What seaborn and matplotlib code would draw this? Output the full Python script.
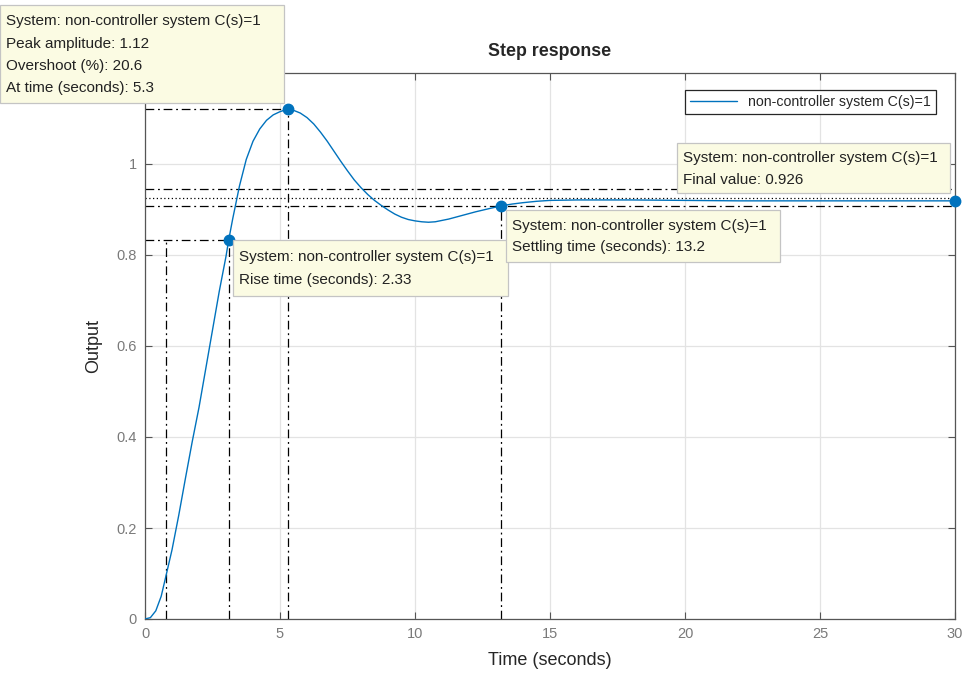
import matplotlib
matplotlib.use("Agg")
import matplotlib.pyplot as plt
from matplotlib.patches import Rectangle
import seaborn as sns
import pandas as pd

# step response
time_s = [0.0, 0.2, 0.4, 0.6, 0.77, 1.0, 1.25, 1.5, 1.75, 2.0, 2.25, 2.5, 2.75, 3.0,
          3.1, 3.25, 3.5, 3.75, 4.0, 4.25, 4.5, 4.75, 5.0, 5.15, 5.3, 5.5, 5.75, 6.0,
          6.25, 6.5, 6.75, 7.0, 7.25, 7.5, 7.75, 8.0, 8.25, 8.5, 8.75, 9.0, 9.25,
          9.5, 9.75, 10.0, 10.25, 10.5, 10.75, 11.25, 11.75, 12.25, 12.75, 13.2,
          13.6, 14.0, 14.5, 15.0, 16.0, 18.0, 20.0, 22.0, 25.0, 30.0]
output = [0.0, 0.003, 0.018, 0.05, 0.093, 0.152, 0.228, 0.31, 0.39, 0.465, 0.55,
          0.635, 0.72, 0.797, 0.833, 0.88, 0.952, 1.01, 1.05, 1.077, 1.096, 1.108,
          1.115, 1.118, 1.12, 1.118, 1.112, 1.102, 1.088, 1.07, 1.05, 1.028, 1.006,
          0.985, 0.965, 0.948, 0.933, 0.92, 0.909, 0.899, 0.89, 0.883, 0.878, 0.875,
          0.873, 0.872, 0.873, 0.879, 0.887, 0.895, 0.902, 0.908, 0.912, 0.915,
          0.918, 0.92, 0.921, 0.921, 0.92, 0.919, 0.919, 0.919]

t10, t90, y90 = 0.77, 3.1, 0.833
peak_t, peak_y = 5.3, 1.12
settle_t, settle_y = 13.2, 0.908
final_t, final_y = 30.0, 0.919
final_value = 0.926
band_hi, band_lo = 0.945, 0.907

label = "non-controller system C(s)=1"
blue = "#0072BD"

sns.set_style("white")
plt.rcParams["font.family"] = ["Liberation Sans", "DejaVu Sans"]

W, H = 963, 675
fig = plt.figure(figsize=(W / 100, H / 100), dpi=100)
ax = fig.add_axes([145 / W, 1 - 619 / H, 810 / W, 546 / H])

df = pd.DataFrame({"Time (seconds)": time_s, "Output": output})
sns.lineplot(data=df, x="Time (seconds)", y="Output", ax=ax, color=blue,
             linewidth=1.0, label=label, zorder=3)

ax.set_xlim(0, 30)
ax.set_ylim(0, 1.2)
ax.set_xticks(range(0, 31, 5))
ax.set_yticks([0, 0.2, 0.4, 0.6, 0.8, 1.0])
ax.set_yticklabels(["0", "0.2", "0.4", "0.6", "0.8", "1"])
ax.grid(True, color="#e3e3e3", linewidth=0.9)
ax.set_axisbelow(True)
ax.tick_params(direction="in", length=5, width=0.8, colors="#555555",
               labelcolor="#7a7a7a", labelsize=10.5, top=True, right=True,
               bottom=True, left=True, pad=6)
for sp in ax.spines.values():
    sp.set_color("#555555")
    sp.set_linewidth(0.9)

ax.set_xlabel("Time (seconds)", fontsize=13, color="#262626", labelpad=8)
ax.set_ylabel("Output", fontsize=13, color="#262626", labelpad=10)
ax.set_title("Step response", fontsize=12.8, fontweight="bold", pad=12)

dash = (0, (7, 3, 1.5, 3))
dd = dict(color="black", linestyle=dash, linewidth=0.9, zorder=2)
# rise time
ax.plot([0, t90], [y90, y90], **dd)
ax.plot([t10, t10], [0, y90], **dd)
ax.plot([t90, t90], [0, y90], **dd)
# peak
ax.plot([0, peak_t], [peak_y, peak_y], **dd)
ax.plot([peak_t, peak_t], [0, peak_y], **dd)
# settling
ax.plot([settle_t, settle_t], [0, settle_y], **dd)
ax.axhline(band_hi, **dd)
ax.axhline(band_lo, **dd)
ax.axhline(final_value, color="black", linestyle=(0, (1, 2)), linewidth=0.9, zorder=2)

ax.plot([t90, peak_t, settle_t, final_t], [y90, peak_y, settle_y, final_y], "o",
        color=blue, markersize=7.5, zorder=4, clip_on=False)

leg = ax.legend(loc="upper right", bbox_to_anchor=((936 - 145) / 810, (619 - 90) / 546),
                borderaxespad=0, fontsize=10.2, handlelength=3.3, frameon=True,
                fancybox=False, edgecolor="#262626", framealpha=1, borderpad=0.35)
leg.get_frame().set_linewidth(0.9)


def tip(x0, y0, x1, y1, lines, ys):
    fig.patches.append(Rectangle((x0 / W, 1 - y1 / H), (x1 - x0) / W, (y1 - y0) / H,
                                 transform=fig.transFigure, facecolor="#fbfbe3",
                                 edgecolor="#c4c4c4", linewidth=0.9, zorder=5))
    for txt, yy in zip(lines, ys):
        fig.text((x0 + 6) / W, 1 - yy / H, txt, fontsize=11.0, color="#222222",
                 va="center", ha="left", zorder=6)


tip(0, 5, 284, 103,
    ["System: " + label, "Peak amplitude: 1.12", "Overshoot (%): 20.6",
     "At time (seconds): 5.3"], [21, 44, 66, 88])
tip(233, 240, 508, 296,
    ["System: " + label, "Rise time (seconds): 2.33"], [257, 280])
tip(506, 210, 780, 262,
    ["System: " + label, "Settling time (seconds): 13.2"], [226, 247])
tip(677, 143, 950, 193,
    ["System: " + label, "Final value: 0.926"], [158, 180])

fig.savefig("out.png", dpi=100)
